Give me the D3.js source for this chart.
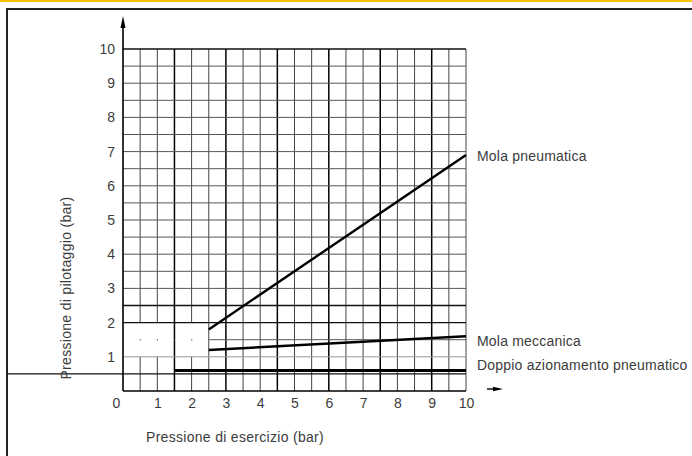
<!DOCTYPE html>
<html>
<head>
<meta charset="utf-8">
<script src="https://cdn.jsdelivr.net/npm/d3@7"></script>
<style>
  html, body { margin: 0; padding: 0; background: #fff; }
  svg text { font-family: 'Liberation Sans', Arial, sans-serif; fill: #3c3c3c; }
</style>
</head>
<body>
<div id="chart"></div>
<script>
// curves (x = pressione di esercizio, y = pressione di pilotaggio)
const seriesNames = ['Mola pneumatica', 'Mola meccanica', 'Doppio azionamento pneumatico']
const molaPneumatica = [[2.5, 1.8], [10, 6.9]]
const molaMeccanica = [[2.5, 1.2], [10, 1.6]]
const doppioAzionamento = [[1.5, 0.6], [10, 0.6]]

const xTicks = [0, 1, 2, 3, 4, 5, 6, 7, 8, 9, 10]
const yTicks = [1, 2, 3, 4, 5, 6, 7, 8, 9, 10]
const xTitle = 'Pressione di esercizio (bar)'
const yTitle = 'Pressione di pilotaggio (bar)'

const width = 692
const height = 456

const svg = d3
  .select('#chart')
  .append('svg')
  .attr('width', width)
  .attr('height', height)

// page frame
svg.append('rect')
  .attr('x', 0).attr('y', 0)
  .attr('width', width).attr('height', 2)
  .attr('fill', '#f3c300')
svg.append('path')
  .attr('d', 'M7,' + height + 'V9H' + width)
  .attr('fill', 'none')
  .attr('stroke', '#222')
  .attr('stroke-width', 2)

const x = d3.scaleLinear().domain([0, 10]).range([123, 466])
const y = d3.scaleLinear().domain([0, 10]).range([391, 49])

const grid = svg.append('g')
const steps = d3.range(0.5, 10.01, 0.5)

// vertical grid lines, every third one drawn heavier like the scan
steps.forEach(v => {
  const heavy = Math.abs(v / 1.5 - Math.round(v / 1.5)) < 0.001
  const segs = (v < 2.5 && v !== 1.5) ? [[0, 1], [2, 10]] : [[0, 10]]
  segs.forEach(s => {
    grid.append('line')
      .attr('x1', x(v)).attr('x2', x(v))
      .attr('y1', y(s[0])).attr('y2', y(s[1]))
      .attr('stroke', heavy ? '#000' : '#444')
      .attr('stroke-width', heavy ? 1.5 : 1)
  })
})

// horizontal grid lines
steps.forEach(v => {
  if (v === 1.5) return
  const dark = v === 10 || v === 2 || v === 0.5 || v === 2.5
  grid.append('line')
    .attr('x1', v === 0.5 ? 7 : x(0)).attr('x2', x(10))
    .attr('y1', y(v)).attr('y2', y(v))
    .attr('stroke', v === 1 ? '#999' : (dark ? '#111' : '#555'))
    .attr('stroke-width', v === 10 ? 1.6 : (dark ? 1.3 : 1))
})
// the row at 1.5 only survives to the right of 2.5
grid.append('line')
  .attr('x1', x(2.5)).attr('x2', x(10))
  .attr('y1', y(1.5)).attr('y2', y(1.5))
  .attr('stroke', '#555')
  .attr('stroke-width', 1)
// leftover dots in the blank patch
d3.range(0.5, 2.5, 0.5).forEach(v => {
  grid.append('rect')
    .attr('x', x(v) - 0.5).attr('y', y(1.5) - 0.5)
    .attr('width', 1.2).attr('height', 1.2)
    .attr('fill', '#555')
})

// axes lines with arrows
svg.append('line')
  .attr('x1', x(0)).attr('x2', x(0))
  .attr('y1', y(0)).attr('y2', 26)
  .attr('stroke', '#000').attr('stroke-width', 1.6)
svg.append('path')
  .attr('d', 'M' + x(0) + ',16L' + (x(0) - 2.5) + ',28L' + (x(0) + 2.5) + ',28Z')
  .attr('fill', '#000')
svg.append('line')
  .attr('x1', x(0)).attr('x2', x(10))
  .attr('y1', y(0)).attr('y2', y(0))
  .attr('stroke', '#000').attr('stroke-width', 1.6)
svg.append('line')
  .attr('x1', 487).attr('x2', 495)
  .attr('y1', 389).attr('y2', 389)
  .attr('stroke', '#000').attr('stroke-width', 1.4)
svg.append('path')
  .attr('d', 'M503,389L493,386.8L493,391.2Z')
  .attr('fill', '#000')

// tick labels through d3 axes
const xAxis = svg.append('g')
  .attr('transform', 'translate(0,' + y(0) + ')')
  .call(d3.axisBottom(x).tickValues(xTicks).tickSize(0).tickPadding(7).tickFormat(d3.format('d')))
xAxis.select('.domain').remove()
xAxis.selectAll('text')
  .attr('font-size', 14)
  .attr('fill', '#3c3c3c')
  .style('font-family', "'Liberation Sans', Arial, sans-serif")
  .attr('dx', d => d === 0 ? -7 : 0)

const yAxis = svg.append('g')
  .attr('transform', 'translate(' + x(0) + ',0)')
  .call(d3.axisLeft(y).tickValues(yTicks).tickSize(0).tickPadding(8).tickFormat(d3.format('d')))
yAxis.select('.domain').remove()
yAxis.selectAll('text')
  .attr('font-size', 14)
  .attr('fill', '#3c3c3c')
  .style('font-family', "'Liberation Sans', Arial, sans-serif")

// curves
const line = d3.line().x(d => x(d[0])).y(d => y(d[1]))
const series = [molaPneumatica, molaMeccanica, doppioAzionamento]
const widths = [2.4, 2.4, 3]

series.forEach((s, i) => {
  svg.append('path')
    .datum(s)
    .attr('d', line)
    .attr('fill', 'none')
    .attr('stroke', '#000')
    .attr('stroke-width', widths[i])
})

// labels at the right end
const labelY = [y(6.9) + 1, y(1.45), y(0.75)]
series.forEach((s, i) => {
  svg.append('text')
    .attr('x', 477)
    .attr('y', labelY[i])
    .attr('dy', '0.35em')
    .attr('font-size', 14)
    .attr('letter-spacing', 0.2)
    .text(seriesNames[i])
})

// axis titles
svg.append('text')
  .attr('x', 146)
  .attr('y', 437)
  .attr('dy', '0.35em')
  .attr('font-size', 14)
  .attr('letter-spacing', 0.3)
  .text(xTitle)

svg.append('text')
  .attr('transform', 'translate(66,' + 288 + ') rotate(-90)')
  .attr('text-anchor', 'middle')
  .attr('dy', '0.35em')
  .attr('font-size', 14)
  .attr('letter-spacing', 0.3)
  .text(yTitle)
</script>
</body>
</html>
